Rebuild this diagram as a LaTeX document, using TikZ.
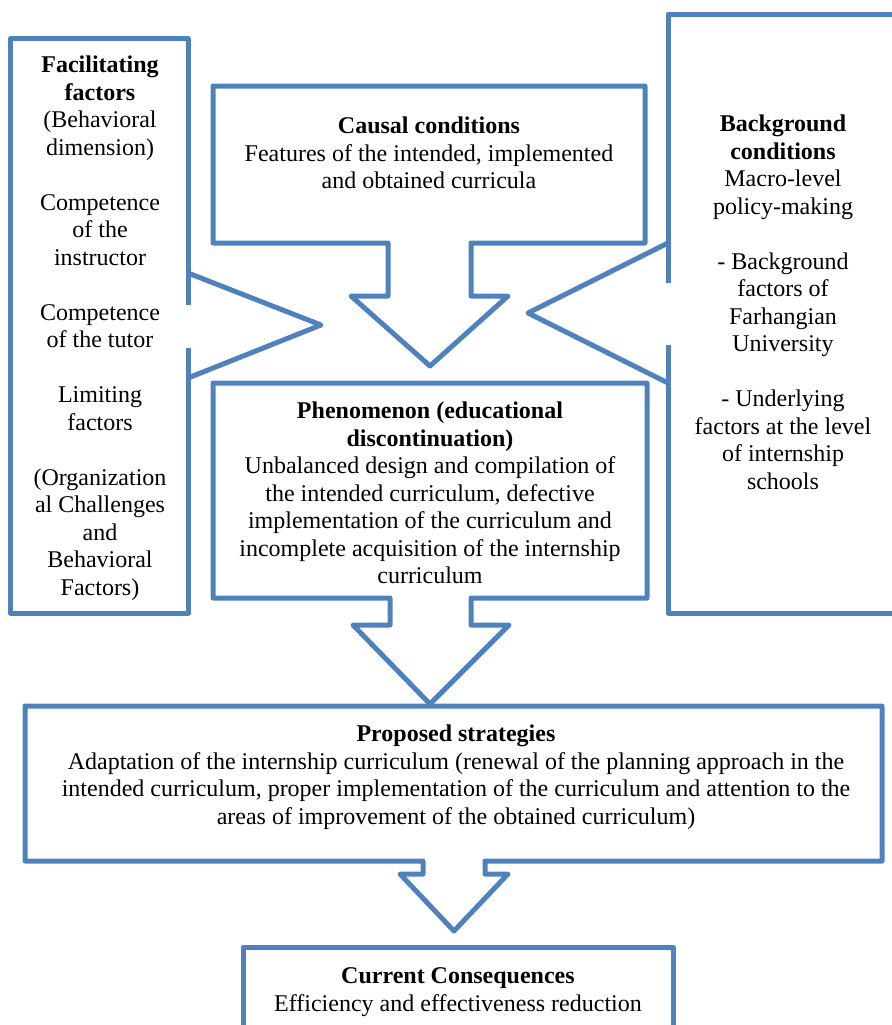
\documentclass[tikz,border=0pt]{standalone}
\usepackage{fontspec}
\setmainfont{Liberation Serif}
\definecolor{boxblue}{RGB}{79,129,189}
\begin{document}
\begin{tikzpicture}[x=0.5pt,y=-0.5pt]
      \tikzstyle{every node}+=[inner sep=0pt, align=center, font=\fontsize{12}{13.75}\selectfont]
      \tikzstyle{outline}=[boxblue, line width=2.5pt, line join=round]
      \useasboundingbox (0,0) rectangle (892,1025);
      \clip (0,0) rectangle (892,1025);
      % facilitating factors
      \draw [outline] (188,305) -- (188,38.5) -- (10.5,38.5) -- (10.5,613) -- (188,613) -- (188,348);
      \draw [outline] (188,273) -- (321,325) -- (188,378);
      \node (facil) at (100,328) {\textbf{Facilitating}\\\textbf{factors}\\(Behavioral\\dimension)\\[13.75pt]Competence\\of the\\instructor\\[13.75pt]Competence\\of the tutor\\[13.75pt]Limiting\\factors\\[13.75pt](Organization\\al Challenges\\and\\Behavioral\\Factors)};
      % causal conditions
      \draw [outline] (388,243) -- (213,243) -- (213,86) -- (645,86) -- (645,243) -- (471,243) -- (471,296) -- (508,296) -- (430,366) -- (351,296) -- (388,296) -- cycle;
      \node (causal) at (429,153) {\textbf{Causal conditions}\\Features of the intended, implemented\\and obtained curricula};
      % background conditions
      \draw [outline] (668,283) -- (668,14) -- (900,14);
      \draw [outline] (668,345) -- (668,613) -- (900,613);
      \draw [outline] (668,243) -- (528,313) -- (668,383);
      \node (backgr) at (783,302.5) {\textbf{Background}\\\textbf{conditions}\\Macro-level\\policy-making\\[13.75pt]- Background\\factors of\\Farhangian\\University\\[13.75pt]- Underlying\\factors at the level\\of internship\\schools};
      % phenomenon
      \draw [outline] (390,598) -- (213,598) -- (213,383) -- (647,383) -- (647,598) -- (471,598) -- (471,625) -- (509,625) -- (430,704) -- (353,625) -- (390,625) -- cycle;
      \node (phenom) at (430,493) {\textbf{Phenomenon (educational}\\\textbf{discontinuation)}\\Unbalanced design and compilation of\\the intended curriculum, defective\\implementation of the curriculum and\\incomplete acquisition of the internship\\curriculum};
      % proposed strategies
      \draw [outline] (423,861) -- (25,861) -- (25,706) -- (882,706) -- (882,861) -- (485,861) -- (485,874) -- (508,874) -- (454,931) -- (400,874) -- (423,874) -- cycle;
      \node (strat) at (456,777) {\textbf{Proposed strategies}\\Adaptation of the internship curriculum (renewal of the planning approach in the\\intended curriculum, proper implementation of the curriculum and attention to the\\areas of improvement of the obtained curriculum)};
      % current consequences
      \draw [outline] (243,1040) -- (243,947) -- (673,947) -- (673,1040);
      \node (conseq) at (458,992) {\textbf{Current Consequences}\\Efficiency and effectiveness reduction};
\end{tikzpicture}
\end{document}
